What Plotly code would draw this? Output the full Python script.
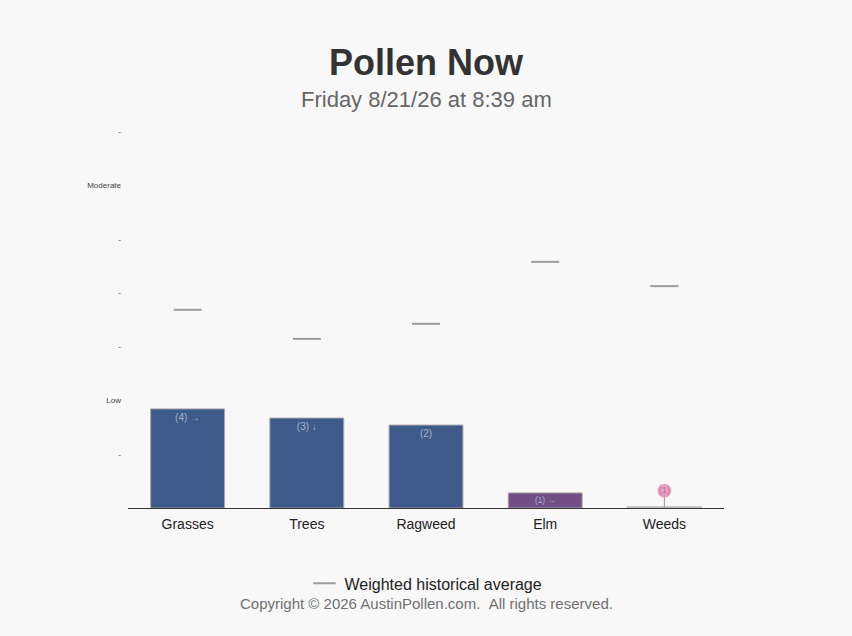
import plotly.graph_objects as go

# pollen levels on the index scale (0 = none, 2 = Low, 6 = Moderate)
categories = ["Grasses", "Trees", "Ragweed", "Elm", "Weeds"]
current_level = [1.84, 1.67, 1.54, 0.28, 0.02]
bar_labels = ["(4) \u2192", "(3) \u2193", "(2)", "(1) \u2192", ""]
historical_avg = [3.68, 3.14, 3.42, 4.57, 4.12]

weeds_level = [0.32]
weeds_label = ["(1)"]

tick_vals = [1, 2, 3, 4, 5, 6, 7]
tick_text = ["-", "Low", "-", "-", "-", "Moderate", "-"]

bar_colors = ["#3d5a8b", "#3d5a8b", "#3d5a8b", "#734e85", "#f8f8f8"]

fig = go.Figure()

fig.add_trace(go.Bar(
    x=categories,
    y=current_level,
    text=bar_labels,
    textposition="inside",
    insidetextanchor="end",
    textangle=0,
    textfont=dict(size=10, color="#a9b4c9"),
    marker=dict(color=bar_colors, line=dict(color="#a8a8a8", width=1)),
    showlegend=False,
    hoverinfo="skip",
))

fig.add_trace(go.Scatter(
    x=categories,
    y=historical_avg,
    mode="markers",
    name="Weighted historical average",
    marker=dict(symbol="line-ew", size=20, line=dict(color="#9c9c9c", width=2)),
))

fig.add_trace(go.Scatter(
    x=["Weeds"],
    y=weeds_level,
    mode="markers+text",
    text=weeds_label,
    textposition="middle center",
    textfont=dict(size=9, color="#c0668f"),
    marker=dict(size=14, color="rgba(226,150,184,0.85)"),
    error_y=dict(type="data", symmetric=False, array=[0], arrayminus=weeds_level,
                 color="#9a9a9a", thickness=1, width=0),
    showlegend=False,
    hoverinfo="skip",
))

fig.update_layout(
    width=852,
    height=636,
    paper_bgcolor="#f8f8f8",
    plot_bgcolor="#f8f8f8",
    font=dict(family="Liberation Sans, Arial, sans-serif", color="#333"),
    bargap=0.38,
    hovermode=False,
    dragmode=False,
    margin=dict(l=128, r=128, t=131, b=128),
    title=dict(
        text="<b>Pollen Now</b>",
        x=0.5, xanchor="center",
        y=1 - 62 / 636, yanchor="middle",
        font=dict(size=36, color="#333"),
    ),
    xaxis=dict(
        showline=True, linecolor="#333", linewidth=1,
        ticks="", tickfont=dict(size=14, color="#222"),
        ticklabelstandoff=3,
        showgrid=False, fixedrange=True,
    ),
    yaxis=dict(
        range=[0, 7],
        tickvals=tick_vals, ticktext=tick_text,
        tickfont=dict(size=8, color="#444"),
        showgrid=False, zeroline=False, showline=False,
        ticklabelstandoff=6, fixedrange=True,
    ),
    legend=dict(
        orientation="h",
        x=0.5, xanchor="center",
        y=-0.2, yanchor="middle",
        font=dict(size=16, color="#222"),
        bgcolor="rgba(0,0,0,0)",
    ),
    annotations=[
        dict(
            text="Friday 8/21/26 at 8:39 am",
            xref="paper", yref="paper",
            x=0.5, y=1 + (131 - 100) / 377,
            xanchor="center", yanchor="middle",
            showarrow=False,
            font=dict(size=22, color="#666"),
        ),
        dict(
            text="Copyright \u00a9 2026 AustinPollen.com.\u00a0\u00a0All rights reserved.",
            xref="paper", yref="paper",
            x=0.5, y=-(603 - 508) / 377,
            xanchor="center", yanchor="middle",
            showarrow=False,
            font=dict(size=15, color="#707070"),
        ),
    ],
)

fig.write_html(
    "out.html",
    config={"displayModeBar": False},
    post_script="document.body.style.margin='0';document.body.style.background='#f8f8f8';",
)
